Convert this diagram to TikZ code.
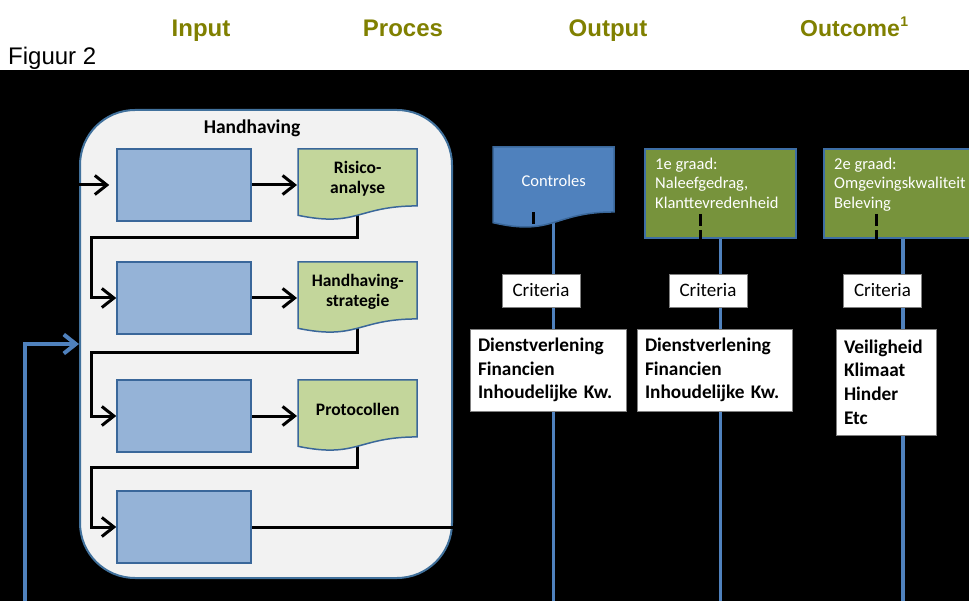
\documentclass[tikz,border=0pt]{standalone}
\usepackage{fontspec}
\setmainfont{Carlito}
\newfontfamily\arialf{Liberation Sans}
\usetikzlibrary{arrows.meta,calc}
\definecolor{hdrolive}{RGB}{128,128,0}
\definecolor{boxblue}{HTML}{95B3D7}
\definecolor{edgeblue}{HTML}{3A679A}
\definecolor{accblue}{HTML}{4F81BD}
\definecolor{docgreen}{HTML}{C3D69B}
\definecolor{olivebox}{HTML}{77933C}
\definecolor{gedge}{HTML}{3E6EA5}
\definecolor{contfill}{HTML}{F2F2F2}
\definecolor{contedge}{HTML}{41719C}
\pgfdeclarelayer{back}
\pgfdeclarelayer{bg}
\pgfsetlayers{back,bg,main}
\newcommand\docpath[5]{\path[#5] (#1,#2) -- ({#1+#3},#2) -- ({#1+#3},{#2+0.802*#4}) .. controls ({#1+0.5*#3},{#2+0.802*#4}) and ({#1+0.5*#3},{#2+1.107*#4}) .. (#1,{#2+0.934*#4}) -- cycle;}
\begin{document}
\begin{tikzpicture}[x=1pt,y=-1pt,
  hdr/.style={anchor=base, inner sep=0, text=hdrolive, font=\arialf\bfseries\fontsize{24}{28}\selectfont},
  cont/.style={draw=contedge, line width=2pt, fill=contfill, minimum width=372pt, minimum height=468pt, rounded corners=55pt, inner sep=0},
  bbox/.style={draw=edgeblue, line width=1.5pt, fill=boxblue, minimum width=134pt, minimum height=72pt, inner sep=0},
  docg/.style={draw=edgeblue, line width=1.5pt, fill=docgreen},
  docb/.style={draw=edgeblue, line width=1.5pt, fill=accblue},
  doct/.style={anchor=north west, minimum width=119pt, minimum height=59pt, inner sep=0, align=center, font=\bfseries\fontsize{17.5}{19.5}\selectfont},
  gbox/.style={anchor=north west, draw=gedge, line width=2pt, fill=olivebox, minimum width=151pt, minimum height=89pt, inner sep=0},
  gtxt/.style={anchor=north west, inner sep=0, align=left, text=white, font=\fontsize{16.5}{19.5}\selectfont},
  crit/.style={draw=gray, line width=0.8pt, fill=white, minimum width=78pt, minimum height=33pt, inner sep=0, font=\fontsize{19}{23}\selectfont},
  lbox/.style={draw=gray, line width=0.8pt, fill=white, minimum height=82pt, inner xsep=8pt, inner ysep=0pt, align=left, font=\bfseries\fontsize{19.3}{23.6}\selectfont},
  conn/.style={draw=black, line width=3pt},
  arr/.style={conn, -{Straight Barb[length=12pt,width=19pt]}},
  barr/.style={draw=accblue, line width=4pt, -{Straight Barb[length=12pt,width=19pt]}},
  bline/.style={draw=accblue, line width=3.5pt},
  dline/.style={draw=black, line width=3pt, dash pattern=on 12pt off 4pt},
  sarr/.style={draw=black, line width=2pt, -{Straight Barb[length=4pt,width=8pt]}}
]
\begin{pgfonlayer}{back}
  \fill[white] (0,0) rectangle (969,601);
  \fill[black] (0,70) rectangle (969,601);
  \node[cont] (cont) at (266,344) {};
\end{pgfonlayer}
\useasboundingbox (0,0) rectangle (969,601);

% headers
\node[hdr] (hin) at (201,36.5) {Input};
\node[hdr] (hpr) at (403,36.5) {Proces};
\node[hdr] (hout) at (608,36.5) {Output};
\node[hdr, anchor=base west] (hoc) at (800,36.5) {\fontsize{23}{28}\selectfont Outcome\kern0.5pt\raisebox{10pt}{\fontsize{14}{14}\selectfont 1}};
\node[anchor=base west, inner sep=0, font=\arialf\fontsize{24}{28}\selectfont] (fig) at (8,65) {Figuur 2};

% container content
\node[inner sep=0, font=\bfseries\fontsize{19.5}{22}\selectfont] (ttl) at (252,128) {Handhaving};
\node[bbox] (b1) at (184,185) {};
\node[bbox] (b2) at (184,298) {};
\node[bbox] (b3) at (184,416) {};
\node[bbox] (b4) at (184,527) {};

\docpath{298}{149}{119}{71}{docg}
\node[doct] (d1) at (298,149) {Risico-\\analyse};
\docpath{298}{262}{119}{71}{docg}
\node[doct] (d2) at (298,262) {Handhaving-\\strategie};
\docpath{298}{380}{119}{71}{docg}
\node[doct] (d3) at (298,380) {Protocollen};

% right part
\docpath{493}{147}{121}{81}{docb}
\node[anchor=north west, minimum width=121pt, minimum height=67pt, inner sep=0, text=white, font=\fontsize{16.5}{20}\selectfont] (ctrl) at (493,147) {Controles};
\node[gbox] (g1) at (644,148) {};
\node[gtxt] (g1t) at (655,157.5) {1e graad:\\Naleefgedrag,\\Klanttevredenheid};
\node[gbox] (g2) at (823,148) {};
\node[gtxt] (g2t) at (834,157.5) {2e graad:\\Omgevingskwaliteit\\Beleving};

\node[crit] (c1) at (541,290.5) {Criteria};
\node[crit] (c2) at (708,290.5) {Criteria};
\node[crit] (c3) at (882.5,290.5) {Criteria};

\node[lbox, text width=140pt] (l1) at (548,370) {Dienstverlening\\Financien\\Inhoudelijke Kw.};
\node[lbox, text width=139pt] (l2) at (714.5,370) {Dienstverlening\\Financien\\Inhoudelijke Kw.};
\node[lbox, text width=84pt, minimum height=106pt] (l3) at (886,382) {Veiligheid\\Klimaat\\Hinder\\Etc};

\coordinate (fb) at (25,601);
\coordinate (bot) at (0,601);

\begin{pgfonlayer}{bg}
  \draw[arr] (cont.west |- b1.west) -- ([xshift=-7pt]b1.west);
  \draw[arr] (b1.east) -- ([xshift=-1pt]d1.west |- b1.east);
  \draw[arr] (b2.east) -- ([xshift=-1pt]d2.west |- b2.east);
  \draw[arr] (b3.east) -- ([xshift=-1pt]d3.west |- b3.east);
  \draw[arr] (d1.south) |- ([xshift=-25pt,yshift=-16pt]b1.south west) |- (b2.west);
  \draw[arr] (d2.south) |- ([xshift=-25pt,yshift=-18pt]b2.south west) |- (b3.west);
  \draw[arr] (d3.south) |- ([xshift=-25pt,yshift=-15pt]b3.south west) |- (b4.west);
  \draw[conn] (b4.east) -- (cont.east |- b4.east);
  \draw[barr] (fb) |- (cont.west);
  \draw[bline] (ctrl.south) -- (ctrl.south |- bot);
  \draw[bline] (g1.south) -- (g1.south |- bot);
  \draw[bline] ([xshift=3.5pt]g2.south) -- ([xshift=3.5pt]g2.south |- bot);
  \draw[sarr] (ctrl.east) -- (g1.west |- ctrl.east);
  \draw[sarr] (g1.east |- ctrl.east) -- (g2.west |- ctrl.east);
\end{pgfonlayer}

\draw[dline] ([xshift=-20pt,yshift=2pt]ctrl.south) -- ([xshift=-20pt]ctrl.south |- c1.north);
\draw[dline] ([xshift=-20pt,yshift=25pt]g1.south) -- ([xshift=-20pt]g1.south |- c2.north);
\draw[dline] ([xshift=-23.5pt,yshift=25pt]g2.south) -- ([xshift=-23.5pt]g2.south |- c3.north);
\end{tikzpicture}
\end{document}
